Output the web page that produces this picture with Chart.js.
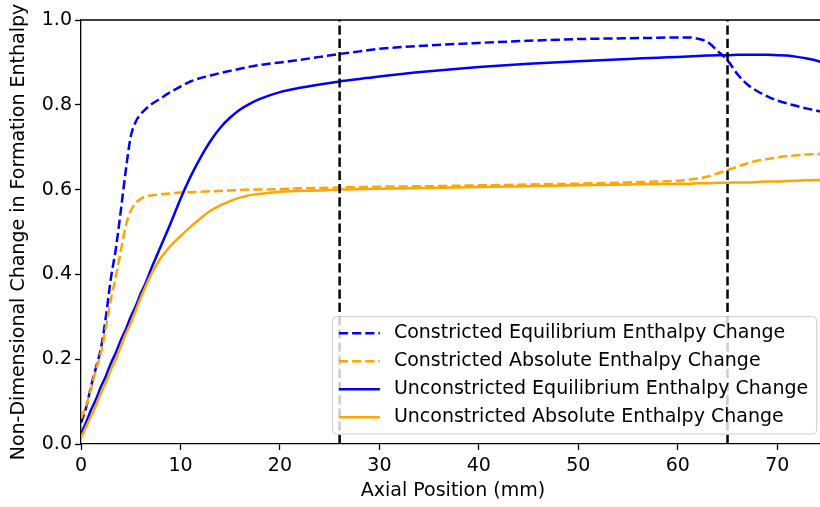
<!DOCTYPE html>
<html><head><meta charset="utf-8">
<script src="https://cdn.jsdelivr.net/npm/chart.js@4.4.1/dist/chart.umd.min.js"></script>
<style>
html,body{margin:0;padding:0;background:#fff;overflow:hidden;width:820px;height:507px}
#wrap{width:820px;height:507px;overflow:hidden;position:relative}
canvas{display:block}
</style></head>
<body><div id="wrap"><canvas id="c" width="825" height="507"></canvas></div>
<script>
// Axial position (mm)
const positions = [0,0.5,1,1.5,2,2.5,3,3.5,4,4.5,5,5.5,6,6.5,7,8,9,10,11,12,13,14,15,16,17,18,20,22,24,26,28,30,35,40,45,50,55,58,60,61,62,63,64,65,66,67,68,69,70,71,72,73,74,74.8];
const constrictedEquilibrium = [0.05,0.085,0.135,0.18,0.225,0.30,0.39,0.46,0.55,0.645,0.725,0.76,0.778,0.79,0.80,0.815,0.83,0.843,0.855,0.863,0.869,0.875,0.88,0.885,0.89,0.894,0.90,0.906,0.913,0.92,0.926,0.932,0.94,0.946,0.951,0.955,0.957,0.958,0.959,0.959,0.956,0.948,0.927,0.905,0.872,0.848,0.832,0.82,0.81,0.803,0.797,0.791,0.786,0.783];
const constrictedAbsolute = [0.06,0.09,0.13,0.175,0.215,0.275,0.34,0.395,0.455,0.515,0.55,0.568,0.578,0.583,0.586,0.589,0.591,0.593,0.594,0.595,0.596,0.597,0.598,0.599,0.6,0.6,0.601,0.603,0.604,0.605,0.606,0.607,0.608,0.61,0.612,0.614,0.617,0.619,0.621,0.623,0.626,0.631,0.638,0.646,0.654,0.662,0.668,0.672,0.676,0.679,0.681,0.683,0.684,0.686];
const unconstrictedEquilibrium = [0.025,0.05,0.08,0.105,0.135,0.16,0.19,0.215,0.245,0.27,0.3,0.325,0.355,0.38,0.41,0.465,0.52,0.578,0.63,0.675,0.714,0.746,0.77,0.789,0.803,0.814,0.83,0.84,0.848,0.855,0.861,0.867,0.879,0.889,0.897,0.903,0.908,0.911,0.913,0.914,0.915,0.916,0.917,0.917,0.918,0.918,0.918,0.918,0.917,0.916,0.913,0.909,0.904,0.898];
const unconstrictedAbsolute = [0.015,0.04,0.065,0.09,0.12,0.145,0.175,0.2,0.23,0.26,0.285,0.315,0.345,0.372,0.398,0.438,0.467,0.49,0.512,0.532,0.55,0.563,0.573,0.581,0.587,0.59,0.595,0.597,0.598,0.6,0.601,0.602,0.604,0.606,0.608,0.61,0.612,0.613,0.614,0.614,0.615,0.615,0.616,0.616,0.617,0.617,0.618,0.619,0.619,0.62,0.621,0.622,0.6225,0.624];
const seriesLabels = ["Constricted Equilibrium Enthalpy Change","Constricted Absolute Enthalpy Change","Unconstricted Equilibrium Enthalpy Change","Unconstricted Absolute Enthalpy Change"];
const markerPositions = [26, 65];
const xTicks = [0,10,20,30,40,50,60,70];
const yTicks = [0,0.2,0.4,0.6,0.8,1.0];

const FS = 19;
const FONT = {family: '"DejaVu Sans"', size: FS};
const BLUE = '#0000ff', ORANGE = '#ffa500';
const DASH = [9.2, 4];
const pts = ys => positions.map((x, i) => ({x, y: ys[i]}));

const common = {pointRadius: 0, borderWidth: 2.5, fill: false, cubicInterpolationMode: 'monotone'};
const datasets = [
  Object.assign({label: seriesLabels[0], data: pts(constrictedEquilibrium), borderColor: BLUE, borderDash: DASH, order: 4, inLegend: true}, common),
  Object.assign({label: seriesLabels[1], data: pts(constrictedAbsolute), borderColor: ORANGE, borderDash: DASH, order: 3, inLegend: true}, common),
  Object.assign({label: seriesLabels[2], data: pts(unconstrictedEquilibrium), borderColor: BLUE, order: 2, inLegend: true}, common),
  Object.assign({label: seriesLabels[3], data: pts(unconstrictedAbsolute), borderColor: ORANGE, order: 1, inLegend: true}, common),
];
markerPositions.forEach(m => datasets.push({label: 'marker ' + m, data: [{x: m, y: 0}, {x: m, y: 1}], borderColor: '#000', borderDash: DASH, borderWidth: 2.5, pointRadius: 0, order: 0, inLegend: false}));

const framePlugin = {
  id: 'frame',
  afterDraw(chart) {
    const ctx = chart.ctx, ca = chart.chartArea;
    ctx.save();
    ctx.strokeStyle = '#000'; ctx.lineWidth = 1.3;
    ctx.beginPath();
    ctx.moveTo(ca.left, ca.top); ctx.lineTo(ca.right, ca.top); ctx.lineTo(ca.right, ca.bottom);
    ctx.stroke();
    ctx.restore();
  }
};

const legendPlugin = {
  id: 'mplLegend',
  afterDatasetsDraw(chart) {
    const ctx = chart.ctx, ca = chart.chartArea;
    const items = chart.data.datasets.filter(d => d.inLegend);
    ctx.save();
    ctx.font = FS + 'px "DejaVu Sans"';
    const tw = Math.max(...items.map(d => ctx.measureText(d.label).width));
    const w = 6.3 + 41 + 14 + tw + 8.4;
    const h = 117.3;
    const x1 = ca.right - 8.3 - w;
    const y1 = ca.bottom - 10 - h;
    const r = 4;
    ctx.beginPath();
    ctx.moveTo(x1 + r, y1);
    ctx.arcTo(x1 + w, y1, x1 + w, y1 + h, r);
    ctx.arcTo(x1 + w, y1 + h, x1, y1 + h, r);
    ctx.arcTo(x1, y1 + h, x1, y1, r);
    ctx.arcTo(x1, y1, x1 + w, y1, r);
    ctx.closePath();
    ctx.fillStyle = 'rgba(255,255,255,0.8)';
    ctx.fill();
    ctx.strokeStyle = '#cccccc'; ctx.lineWidth = 1;
    ctx.stroke();
    items.forEach((d, i) => {
      const yy = y1 + 16.6 + i * 28;
      ctx.beginPath();
      ctx.setLineDash(d.borderDash || []);
      ctx.strokeStyle = d.borderColor; ctx.lineWidth = d.borderWidth;
      ctx.moveTo(x1 + 6.3, yy); ctx.lineTo(x1 + 6.3 + 41, yy);
      ctx.stroke();
      ctx.setLineDash([]);
      ctx.fillStyle = '#000';
      ctx.textBaseline = 'middle';
      ctx.textAlign = 'left';
      ctx.fillText(d.label, x1 + 6.3 + 41 + 14, yy);
    });
    ctx.restore();
  }
};

new Chart(document.getElementById('c'), {
  type: 'line',
  data: {datasets},
  plugins: [framePlugin, legendPlugin],
  options: {
    responsive: false,
    animation: false,
    layout: {padding: {top: 20, right: 0, left: 0, bottom: 0}},
    plugins: {legend: {display: false}, tooltip: {enabled: false}},
    scales: {
      x: {
        type: 'linear', min: 0, max: 74.8,
        afterBuildTicks: s => { s.ticks = xTicks.map(v => ({value: v})); },
        afterFit: s => { s.height = 63; s.paddingLeft = 0; s.paddingRight = 0; },
        ticks: {font: FONT, color: '#000', padding: 5, maxRotation: 0, callback: v => String(v)},
        grid: {display: true, drawOnChartArea: false, drawTicks: true, tickLength: 6, tickColor: '#000', tickWidth: 1.3},
        border: {display: true, color: '#000', width: 1.3},
        title: {display: true, text: 'Axial Position (mm)', font: FONT, color: '#000', padding: {top: 0, bottom: 5}}
      },
      y: {
        type: 'linear', min: 0, max: 1,
        afterBuildTicks: s => { s.ticks = yTicks.map(v => ({value: v})); },
        afterFit: s => { s.width = 81; s.paddingTop = 0; s.paddingBottom = 0; },
        ticks: {font: FONT, color: '#000', padding: 3, callback: v => Number(v).toFixed(1)},
        grid: {display: true, drawOnChartArea: false, drawTicks: true, tickLength: 6, tickColor: '#000', tickWidth: 1.3},
        border: {display: true, color: '#000', width: 1.3},
        title: {display: true, text: 'Non-Dimensional Change in Formation Enthalpy', font: FONT, color: '#000', padding: {top: 8, bottom: 0}}
      }
    }
  }
});
</script>
</body></html>
